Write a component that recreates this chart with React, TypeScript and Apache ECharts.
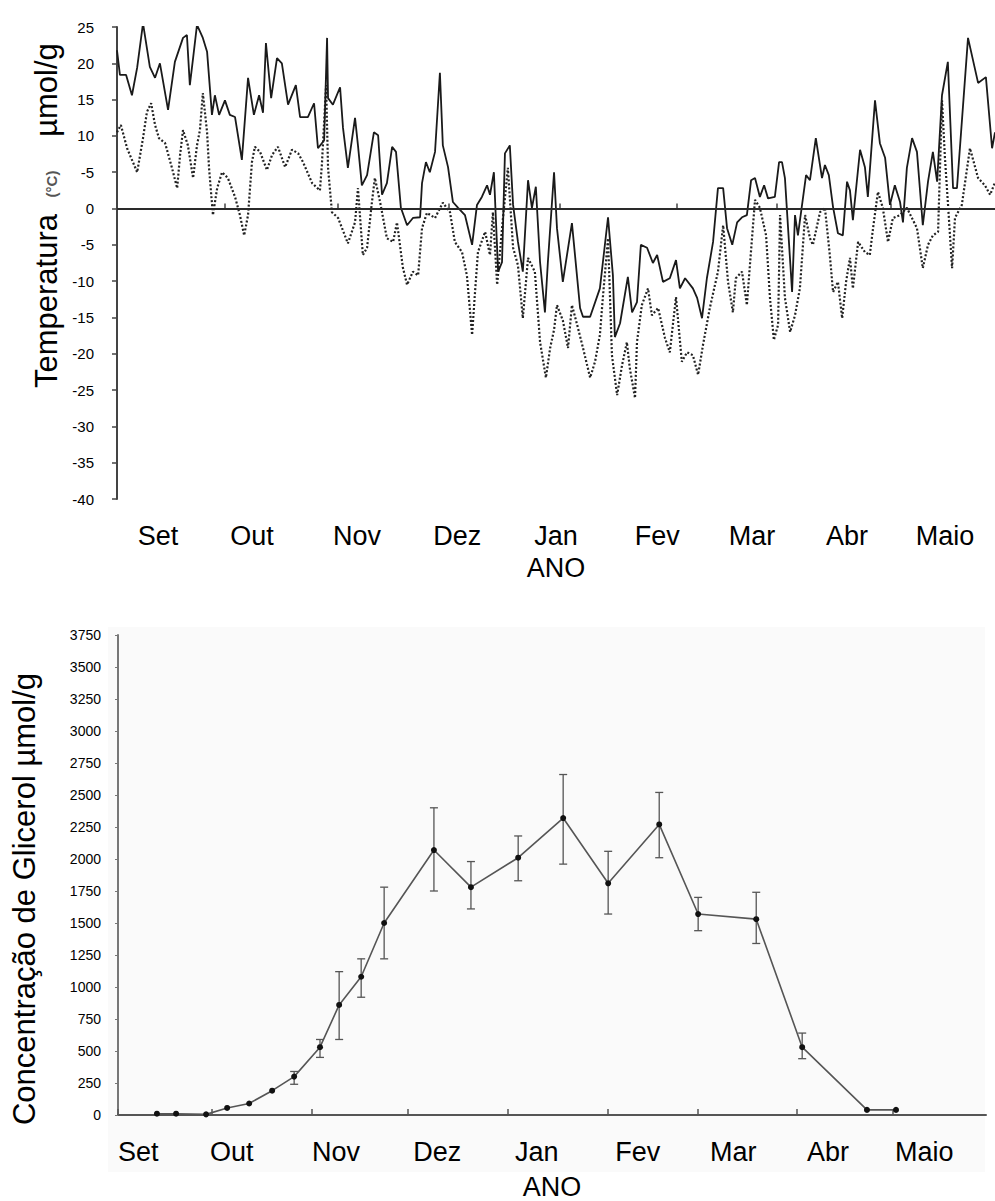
import React, { useEffect, useRef } from "react";
import * as echarts from "echarts";

// ---------- Top panel: daily temperature (°C), x = days since 1 Sep ----------
const maxTemp: [number, number][] = [
  [0, 21.8], [0.9, 18.4], [2.8, 18.4], [4.6, 15.6], [6.2, 19.4], [8.0, 25.5], [10.1, 19.5],
  [11.7, 18.0], [13.2, 20.0], [15.7, 13.6], [17.8, 20.2], [20.3, 23.5], [21.5, 23.9], [22.4, 17.0],
  [23.4, 20.7], [24.6, 25.3], [26.4, 23.5], [27.7, 21.6], [29.2, 12.9], [30.1, 15.6], [31.4, 12.9],
  [33.2, 14.9], [34.7, 12.9], [36.3, 12.6], [38.4, 6.7], [40.3, 18.0], [42.1, 12.9], [43.7, 15.6],
  [44.9, 13.2], [45.8, 22.8], [47.4, 15.2], [49.2, 20.7], [50.7, 20.0], [52.6, 14.3], [55.0, 17.0],
  [56.3, 12.6], [58.7, 12.6], [60.6, 14.5], [61.8, 8.3], [63.7, 9.4], [64.6, 23.5], [64.9, 15.2],
  [66.4, 14.3], [68.6, 16.7], [69.5, 11.1], [71.0, 5.6], [73.2, 12.5], [74.1, 8.7], [75.3, 3.2],
  [76.9, 4.6], [79.0, 10.5], [80.3, 10.1], [81.5, 1.9], [83.0, 3.5], [84.6, 8.5], [85.8, 7.8],
  [87.3, 0.1], [89.2, -2.3], [91.0, -1.3], [93.2, -1.2], [93.8, 3.5], [95.0, 6.4], [96.2, 5.0],
  [97.8, 7.8], [99.3, 18.7], [100.2, 8.7], [101.8, 5.7], [103.3, 0.9], [104.9, 0.1], [107.0, -0.9],
  [109.2, -5.0], [110.7, 0.5], [112.2, 1.6], [113.8, 3.2], [114.7, 1.9], [115.9, 5.0], [117.2, -8.7],
  [118.4, -7.4], [119.3, 7.6], [120.8, 8.7], [121.8, 0.5], [123.3, -4.6], [124.8, -8.7], [126.4, 3.9],
  [127.6, 0.1], [128.8, 3.0], [130.1, -7.4], [131.6, -14.3], [132.5, -7.4], [134.4, 5.0], [135.3, -2.7],
  [137.1, -10.1], [139.9, -2.0], [142.4, -13.7], [143.3, -14.9], [145.5, -14.9], [148.5, -11.0],
  [151.0, -1.2], [152.5, -9.2], [153.1, -17.7], [154.7, -15.8], [157.1, -9.4], [158.4, -14.3],
  [159.9, -12.9], [161.1, -5.0], [163.0, -5.4], [164.8, -7.5], [166.1, -6.4], [167.9, -10.1],
  [170.0, -9.6], [171.9, -7.1], [173.1, -11.0], [174.7, -9.6], [177.1, -11.0], [178.4, -12.3],
  [179.9, -15.1], [181.4, -9.6], [183.3, -4.6], [184.8, 2.8], [186.4, 2.8], [187.6, -2.7],
  [189.2, -5.0], [190.7, -1.9], [192.2, -1.2], [193.7, -0.9], [195.0, 3.9], [196.2, 4.2],
  [197.7, 1.6], [199.0, 3.2], [200.2, 1.4], [202.3, 1.6], [203.6, 6.4], [204.5, 6.4], [205.4, 4.2],
  [207.6, -11.5], [208.5, -0.9], [209.4, -3.7], [211.9, 4.6], [213.1, 3.9], [214.9, 9.7], [216.8, 4.2],
  [217.7, 6.0], [218.9, 4.6], [220.2, 0.2], [221.7, -3.4], [223.2, -3.7], [224.5, 3.7], [225.4, 2.5],
  [226.3, -1.6], [228.5, 8.1], [230.0, 5.7], [230.9, 1.6], [233.1, 14.9], [234.6, 9.0], [236.2, 7.0],
  [237.7, 0.5], [239.2, 3.2], [240.8, 0.9], [241.7, -1.9], [242.9, 5.6], [244.5, 9.7], [246.0, 7.8],
  [247.8, -2.3], [249.4, 3.7], [250.9, 7.8], [252.2, 3.7], [253.7, 15.6], [255.5, 20.2], [257.1, 2.8],
  [258.3, 2.8], [261.7, 23.5], [264.8, 17.3], [267.2, 18.1], [269.1, 8.3], [270.0, 10.5],
];

const minTemp: [number, number][] = [
  [0, 10.5], [1.2, 11.5], [3.1, 8.3], [6.2, 5.0], [8.0, 9.7], [9.2, 13.3], [10.5, 14.5], [11.7, 11.5],
  [12.9, 9.7], [14.8, 9.0], [16.9, 5.6], [18.5, 2.8], [19.4, 7.4], [20.3, 10.8], [21.8, 8.7], [23.4, 4.2],
  [24.6, 8.7], [25.5, 10.8], [26.4, 15.9], [27.7, 10.5], [28.3, 5.6], [29.5, -0.9], [30.8, 2.8],
  [32.3, 5.0], [34.1, 4.2], [36.3, 1.6], [37.8, -0.9], [39.1, -3.7], [40.3, -0.9], [41.5, 6.4],
  [42.4, 8.5], [44.0, 7.8], [46.1, 5.3], [47.7, 7.4], [49.5, 8.5], [51.7, 5.7], [53.8, 8.1], [55.7, 7.6],
  [57.2, 6.4], [60.0, 3.5], [62.4, 2.5], [63.0, 6.0], [64.3, 17.0], [64.9, 5.6], [66.1, -0.5],
  [68.0, -1.3], [71.0, -4.8], [73.2, -1.9], [74.1, 2.8], [75.6, -6.4], [76.9, -5.4], [78.4, 0.9],
  [79.3, 4.2], [80.9, 0.9], [83.0, -4.1], [84.9, -4.6], [86.1, -1.9], [87.9, -8.1], [89.2, -10.5],
  [91.0, -8.7], [92.6, -9.2], [93.8, -2.7], [95.3, -0.6], [97.8, -1.3], [100.2, 0.8], [102.4, -0.5],
  [103.9, -4.6], [106.1, -6.0], [107.6, -9.2], [109.2, -17.4], [110.1, -11.5], [111.0, -6.0],
  [113.2, -3.2], [114.7, -6.4], [115.6, -0.5], [116.9, -10.5], [118.4, -2.7], [120.2, 5.6],
  [121.8, -5.4], [123.3, -7.8], [124.8, -15.1], [126.4, -6.8], [128.5, -8.7], [130.1, -18.4],
  [131.9, -23.3], [133.2, -19.2], [134.4, -16.7], [135.3, -13.3], [137.1, -15.4], [138.7, -19.2],
  [139.9, -13.3], [141.5, -16.0], [143.3, -19.2], [145.5, -23.3], [147.0, -21.1], [148.5, -17.4],
  [149.4, -12.3], [151.0, -4.1], [152.2, -20.2], [153.8, -25.7], [155.3, -21.6], [156.8, -18.4],
  [157.7, -22.0], [159.3, -26.1], [159.9, -18.4], [161.4, -13.3], [163.3, -11.0], [164.5, -14.7],
  [166.4, -13.7], [168.5, -17.8], [170.0, -19.8], [171.9, -12.2], [173.7, -21.1], [175.3, -19.8],
  [177.1, -20.2], [178.7, -22.9], [180.2, -18.8], [182.3, -13.7], [184.8, -8.7], [186.4, -2.3],
  [187.9, -10.1], [189.4, -14.3], [190.3, -9.6], [192.2, -8.7], [193.7, -13.3], [194.7, -7.4],
  [196.2, 1.2], [197.7, 0.1], [199.6, -3.7], [200.8, -12.3], [202.0, -18.1], [203.3, -16.0],
  [203.9, -0.9], [205.4, -12.3], [207.0, -17.0], [208.5, -14.7], [210.0, -11.0], [211.6, -0.9],
  [213.1, -4.1], [214.0, -5.0], [216.2, -0.5], [217.7, 0.1], [219.2, -6.4], [220.2, -11.5],
  [221.7, -10.1], [223.0, -15.1], [224.2, -10.1], [225.4, -6.8], [226.3, -11.0], [227.9, -4.6],
  [230.0, -6.0], [231.5, -6.4], [232.5, -2.7], [234.0, 2.3], [235.5, 0.1], [237.1, -4.6], [238.6, -1.3],
  [240.8, -0.9], [242.9, 0.1], [246.0, -2.7], [247.8, -8.2], [249.4, -5.0], [250.9, -3.7], [252.5, -3.2],
  [253.7, 14.9], [254.6, 7.0], [255.5, 0.9], [256.8, -8.2], [257.7, -1.3], [259.8, 0.5], [262.3, 8.3],
  [264.8, 4.2], [266.9, 3.2], [268.5, 1.9], [270.0, 3.6],
];

const months = ["Set", "Out", "Nov", "Dez", "Jan", "Fev", "Mar", "Abr", "Maio"];
const topMonthLabelDays = [12.6, 41.5, 73.8, 104.6, 135.0, 166.1, 195.3, 224.5, 254.6];
const topMonthTickDays = [0, 33, 68, 102, 136, 172, 203, 238];

// ---------- Bottom panel: glycerol concentration (µmol/g) ----------
const sampleDays = [12.2, 18.2, 27.6, 34.2, 41.1, 48.3, 55.2, 63.3, 69.3, 76.2, 83.4, 99.0, 110.6,
  125.4, 139.5, 153.6, 169.6, 181.8, 200.0, 214.4, 234.7, 243.8];
const glycerol = [10, 10, 5, 55, 90, 190, 300, 530, 860, 1080, 1500, 2070, 1780,
  2010, 2320, 1810, 2270, 1570, 1530, 530, 40, 40];
const errLow: (number | null)[] = [null, null, null, null, null, null, 240, 450, 590, 920, 1220, 1750, 1610,
  1830, 1960, 1570, 2010, 1440, 1340, 440, null, null];
const errHigh: (number | null)[] = [null, null, null, null, null, null, 340, 590, 1120, 1220, 1780, 2400, 1980,
  2180, 2660, 2060, 2520, 1700, 1740, 640, null, null];
const bottomMonthLabelDays = [0, 28.8, 60.8, 92.5, 124.4, 155.8, 185.5, 215.9, 243.5];
const bottomMonthTickDays = [0, 29.5, 60.8, 90.9, 122.2, 153.6, 181.8, 212.8, 242.9];

const FONT = "'Liberation Sans', Arial, sans-serif";

export default function App() {
  const ref = useRef<HTMLDivElement>(null);
  useEffect(() => {
    if (!ref.current) return;
    const chart = echarts.init(ref.current, null, { renderer: "svg" });
    const glyData = sampleDays.map((d, i) => [d, glycerol[i]]);
    const errData = sampleDays
      .map((d, i) => [d, errLow[i], errHigh[i]])
      .filter((r) => r[1] !== null);

    chart.setOption({
      animation: false,
      backgroundColor: "#ffffff",
      textStyle: { fontFamily: FONT, color: "#000" },
      grid: [
        { left: 117, top: 27, width: 878, height: 472 },
        { left: 118, top: 635, width: 868, height: 480 },
      ],
      graphic: [
        {
          type: "rect",
          silent: true,
          z: -10,
          shape: { x: 108, y: 627, width: 877, height: 545 },
          style: { fill: "#fafafa" },
        },
        {
          type: "text",
          x: 46, y: 301, rotation: Math.PI / 2,
          style: { text: "Temperatura", font: `31px ${FONT}`, fill: "#000", align: "center", verticalAlign: "middle" },
        },
        {
          type: "text",
          x: 51, y: 184, rotation: Math.PI / 2,
          style: { text: "(°C)", font: `bold 15px ${FONT}`, fill: "#555", align: "center", verticalAlign: "middle" },
        },
        {
          type: "text",
          x: 46, y: 90, rotation: Math.PI / 2,
          style: { text: "µmol/g", font: `31px ${FONT}`, fill: "#000", align: "center", verticalAlign: "middle" },
        },
        {
          type: "text",
          x: 24, y: 899, rotation: Math.PI / 2,
          style: { text: "Concentração de Glicerol µmol/g", font: `31px ${FONT}`, fill: "#000", align: "center", verticalAlign: "middle" },
        },
      ],
      xAxis: [
        {
          type: "value", gridIndex: 0, min: 0, max: 270, offset: 21,
          name: "ANO", nameLocation: "middle", nameGap: 34,
          nameTextStyle: { fontSize: 27, color: "#000", fontFamily: FONT },
          axisLine: { show: true, lineStyle: { color: "#444", width: 2 } },
          axisTick: { show: true, inside: true, length: 5, customValues: topMonthTickDays, lineStyle: { color: "#444", width: 1.5 } },
          axisLabel: {
            show: true, margin: 2, fontSize: 27, color: "#000", fontFamily: FONT,
            customValues: topMonthLabelDays,
            formatter: (v: number) => {
              const i = topMonthLabelDays.findIndex((p) => Math.abs(p - v) < 0.01);
              return i >= 0 ? months[i] : "";
            },
          },
          splitLine: { show: false },
        },
        {
          type: "value", gridIndex: 1, min: 0, max: 272, offset: 20,
          name: "ANO", nameLocation: "middle", nameGap: 38,
          nameTextStyle: { fontSize: 27, color: "#000", fontFamily: FONT },
          axisLine: { show: true, lineStyle: { color: "#555", width: 2 } },
          axisTick: { show: true, inside: true, length: 6, customValues: bottomMonthTickDays, lineStyle: { color: "#555", width: 1.5 } },
          axisLabel: {
            show: true, margin: 3, fontSize: 27, color: "#000", fontFamily: FONT, align: "left",
            customValues: bottomMonthLabelDays,
            formatter: (v: number) => {
              const i = bottomMonthLabelDays.findIndex((p) => Math.abs(p - v) < 0.01);
              return i >= 0 ? months[i] : "";
            },
          },
          splitLine: { show: false },
        },
      ],
      yAxis: [
        {
          type: "value", gridIndex: 0, min: -40, max: 25, interval: 5, offset: 11,
          axisLine: { show: true, lineStyle: { color: "#444", width: 2 } },
          axisTick: { show: true, length: 5, lineStyle: { color: "#444", width: 1.5 } },
          axisLabel: {
            fontSize: 15, color: "#000", margin: 12, fontFamily: FONT,
            formatter: (v: number) => (v === 5 ? "-5" : String(v)),
          },
          splitLine: { show: false },
        },
        {
          type: "value", gridIndex: 1, min: 0, max: 3750, interval: 250, offset: 11,
          axisLine: { show: true, lineStyle: { color: "#777", width: 2 } },
          axisTick: { show: true, length: 3, lineStyle: { color: "#777", width: 1 } },
          axisLabel: { fontSize: 14, color: "#000", margin: 6, fontFamily: FONT, formatter: (v: number) => String(v) },
          splitLine: { show: false },
        },
      ],
      series: [
        {
          type: "line", name: "max", xAxisIndex: 0, yAxisIndex: 0, data: maxTemp,
          showSymbol: false, silent: true, z: 3,
          lineStyle: { color: "#1a1a1a", width: 1.8 },
          markLine: {
            silent: true, symbol: ["none", "none"], label: { show: false },
            lineStyle: { color: "#2a2a2a", width: 2.2, type: "solid" },
            data: [{ yAxis: 0 }],
          },
        },
        {
          type: "line", name: "min", xAxisIndex: 0, yAxisIndex: 0, data: minTemp,
          showSymbol: false, silent: true, z: 2,
          lineStyle: { color: "#222", width: 2.2, type: [2, 2] },
        },
        {
          type: "custom", name: "err", xAxisIndex: 1, yAxisIndex: 1, data: errData,
          silent: true, z: 2,
          encode: { x: 0, y: [1, 2] },
          renderItem: (params: any, api: any) => {
            const x = api.value(0);
            const lo = api.coord([x, api.value(1)]);
            const hi = api.coord([x, api.value(2)]);
            const w = 4;
            const style = { stroke: "#555", lineWidth: 1.3 };
            return {
              type: "group",
              children: [
                { type: "line", shape: { x1: lo[0], y1: lo[1], x2: hi[0], y2: hi[1] }, style },
                { type: "line", shape: { x1: lo[0] - w, y1: lo[1], x2: lo[0] + w, y2: lo[1] }, style },
                { type: "line", shape: { x1: hi[0] - w, y1: hi[1], x2: hi[0] + w, y2: hi[1] }, style },
              ],
            };
          },
        },
        {
          type: "line", name: "glicerol", xAxisIndex: 1, yAxisIndex: 1, data: glyData,
          silent: true, z: 3, smooth: false,
          symbol: "circle", symbolSize: 6, showSymbol: true,
          itemStyle: { color: "#111" },
          lineStyle: { color: "#555", width: 1.6 },
        },
      ],
    });
    return () => chart.dispose();
  }, []);

  return (
    <div
      ref={ref}
      style={{ position: "absolute", left: 0, top: 0, width: 995, height: 1201, background: "#fff" }}
    />
  );
}
